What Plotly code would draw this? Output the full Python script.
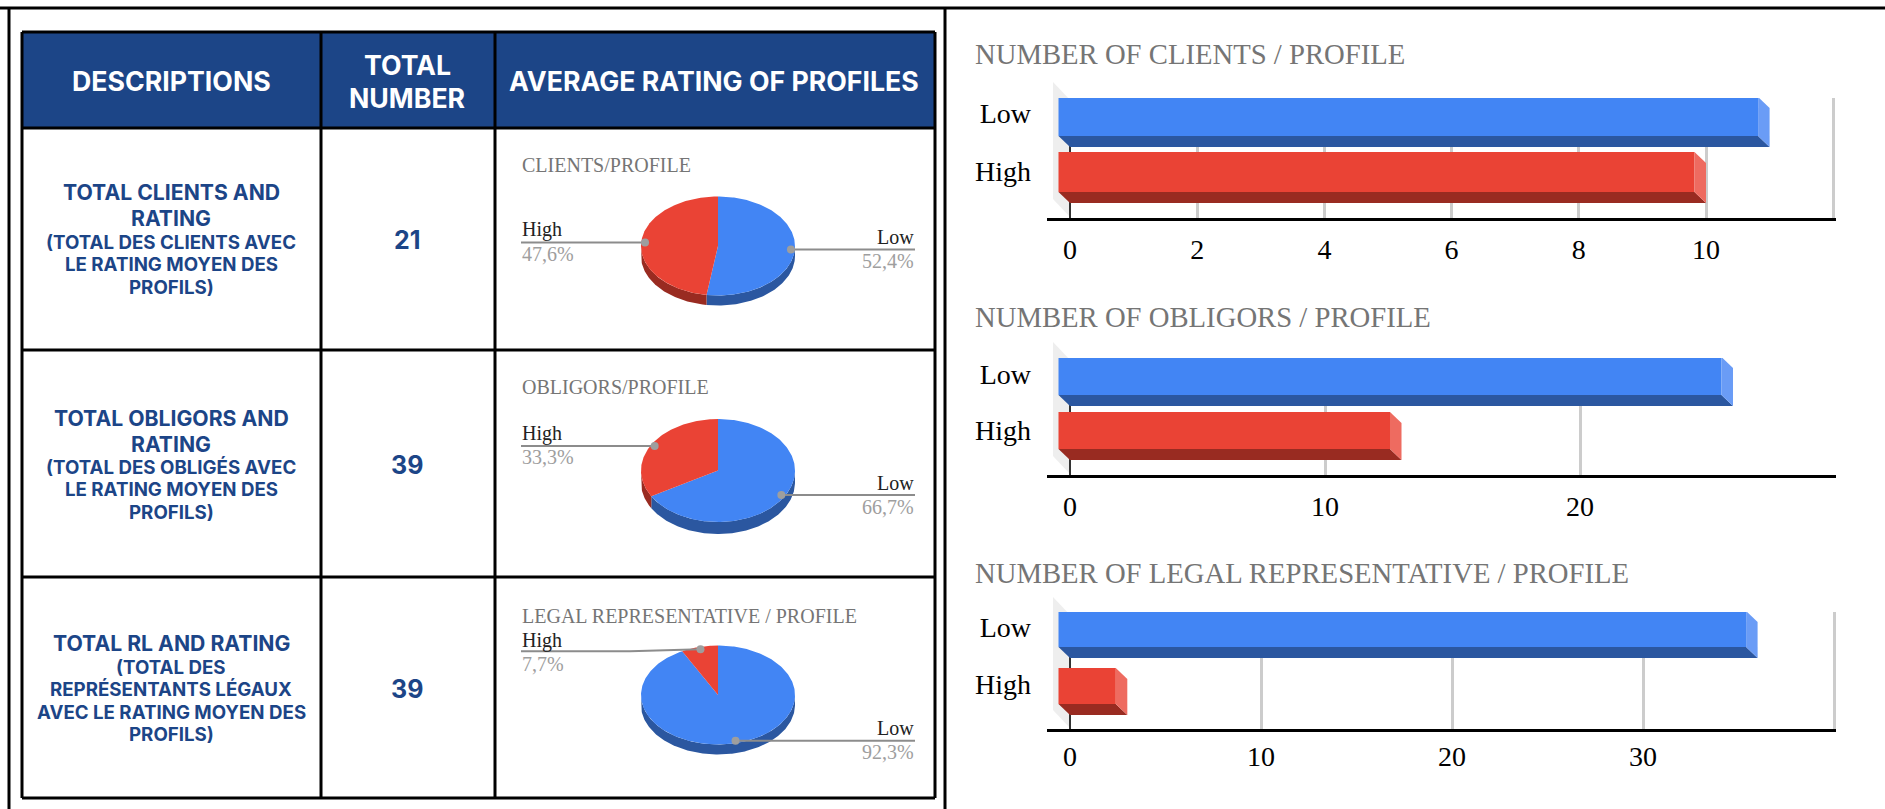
import math
import plotly.graph_objects as go

# ---------- data ----------
categories = ["Low", "High"]
clients_values = [11, 10]
obligors_values = [26, 13]
legal_values = [36, 3]

bar_titles = ["NUMBER OF CLIENTS / PROFILE", "NUMBER OF OBLIGORS / PROFILE", "NUMBER OF LEGAL REPRESENTATIVE / PROFILE"]
bar_ticks = [[0, 2, 4, 6, 8, 10, 12], [0, 10, 20, 30], [0, 10, 20, 30, 40]]
pie_titles = ["CLIENTS/PROFILE", "OBLIGORS/PROFILE", "LEGAL REPRESENTATIVE / PROFILE"]

header_labels = ["DESCRIPTIONS", "TOTAL<br>NUMBER", "AVERAGE RATING OF PROFILES"]
row_main = ["TOTAL CLIENTS AND<br>RATING", "TOTAL OBLIGORS AND<br>RATING", "TOTAL RL AND RATING"]
row_sub = [
    "(TOTAL DES CLIENTS AVEC<br>LE RATING MOYEN DES<br>PROFILS)",
    "(TOTAL DES OBLIGÉS AVEC<br>LE RATING MOYEN DES<br>PROFILS)",
    "(TOTAL DES<br>REPRÉSENTANTS LÉGAUX<br>AVEC LE RATING MOYEN DES<br>PROFILS)",
]
row_totals = [21, 39, 39]

series = [clients_values, obligors_values, legal_values]

# ---------- layout and style ----------
W, H = 1885, 809
NAVY = "#1C4587"
BLUE, BLUE_D, BLUE_L = "#4285F4", "#2B57A0", "#6A9CF6"
RED, RED_D, RED_L = "#EA4335", "#992B21", "#EE6B60"
FRONT = [BLUE, RED]
DARK = [BLUE_D, RED_D]
LIGHT = [BLUE_L, RED_L]
SERIF = "Liberation Serif"
SANS = "Inter"


def fx(p):
    return p / W


def fy(p):
    return 1 - p / H


annotations, shapes, traces = [], [], []


def text(x, y, s, size, color, family=SERIF, anchor="center", weight=None):
    annotations.append(dict(
        x=fx(x), y=fy(y), xref="paper", yref="paper", text=s, showarrow=False,
        xanchor=anchor, yanchor="middle", align=anchor,
        font=dict(family=family, size=size, color=color, weight=weight), borderpad=0,
    ))


def block(x, first_y, spacing, s, size, color, weight=700):
    """One annotation per line, so the line spacing follows the picture rather than the font."""
    for j, part in enumerate(s.split("<br>")):
        text(x, first_y + j * spacing, part, size, color, SANS, weight=weight)


def line(x0, y0, x1, y1, width=3, color="#000"):
    shapes.append(dict(type="line", xref="paper", yref="paper", x0=fx(x0), y0=fy(y0), x1=fx(x1), y1=fy(y1),
                       line=dict(color=color, width=width), layer="above"))


# frame and table
line(0, 8, W, 8, 3)
line(9, 8, 9, H, 3)
line(945, 8, 945, H, 3)
shapes.append(dict(type="rect", xref="paper", yref="paper", x0=fx(22), x1=fx(935), y0=fy(32), y1=fy(128),
                   fillcolor=NAVY, line=dict(width=0), layer="below"))
TABLE_X = [22, 321, 495, 935]
TABLE_Y = [32, 128, 350, 577, 798]
for x in TABLE_X:
    line(x, TABLE_Y[0], x, TABLE_Y[-1])
for y in TABLE_Y:
    line(TABLE_X[0], y, TABLE_X[-1], y)

block(171, 81, 33, header_labels[0], 26.7, "#fff")
block(407, 65, 33, header_labels[1], 26.7, "#fff")
block(714, 81, 33, header_labels[2], 26.7, "#fff")

MAIN_Y = [192, 418, 643]
SUB_Y = [242, 467, 667]
TOTAL_Y = [240, 465, 689]
for i in range(3):
    block(171, MAIN_Y[i], 26, row_main[i], 21.2, NAVY)
    block(171, SUB_Y[i], 22.6, row_sub[i], 18.7, NAVY)
    text(407, TOTAL_Y[i], str(row_totals[i]), 25, NAVY, SANS, weight=700)

layout_axes = {}

# ---------- bar charts ----------
BAR_GEOM = [
    dict(zero=1070, unit=63.6, grid_top=98, axis=218, wall_top=82, tops=[97, 152], bots=[136, 192], title=54,
         lab=[113, 171], standoff=4),
    dict(zero=1070, unit=25.5, grid_top=358, axis=475, wall_top=342, tops=[357, 412], bots=[395, 449], title=317,
         lab=[374, 430], standoff=4),
    dict(zero=1070, unit=19.1, grid_top=612, axis=729, wall_top=597, tops=[611, 668], bots=[647, 704], title=573,
         lab=[627, 684], standoff=0),
]
AX_LEFT, AX_RIGHT = 1047, 1836
DEPTH_X, DEPTH_Y = 11.5, 11

for n, (vals, g, ticks) in enumerate(zip(series, BAR_GEOM, bar_ticks), start=1):
    xname, yname = ("x" if n == 1 else f"x{n}"), ("y" if n == 1 else f"y{n}")
    cen = [(g["tops"][k] + g["bots"][k]) / 2 for k in range(2)]
    step = cen[1] - cen[0]
    ypos = [0, 1]
    to_y = lambda p: (p - cen[0]) / step
    dxv = DEPTH_X / g["unit"]
    dyv = DEPTH_Y / step
    widths = [(g["bots"][k] - g["tops"][k]) / step for k in range(2)]

    # front faces
    traces.append(go.Bar(
        orientation="h", y=ypos, x=vals, base=[-dxv, -dxv], width=widths,
        marker=dict(color=FRONT, line=dict(width=0)), xaxis=xname, yaxis=yname,
        cliponaxis=False, hoverinfo="skip", showlegend=False,
    ))
    # underside and end faces
    for k, v in enumerate(vals):
        t, b = to_y(g["tops"][k]), to_y(g["bots"][k])
        traces.append(go.Scatter(
            x=[-dxv, v - dxv, v, 0, -dxv], y=[b, b, b + dyv, b + dyv, b], mode="lines", fill="toself",
            fillcolor=DARK[k], line=dict(width=0), xaxis=xname, yaxis=yname, cliponaxis=False,
            hoverinfo="skip", showlegend=False,
        ))
        traces.append(go.Scatter(
            x=[v - dxv, v, v, v - dxv, v - dxv], y=[t, t + dyv, b + dyv, b, t], mode="lines", fill="toself",
            fillcolor=LIGHT[k], line=dict(width=0), xaxis=xname, yaxis=yname, cliponaxis=False,
            hoverinfo="skip", showlegend=False,
        ))
    # pale back wall, on the page so that it may rise above the plot area
    wl, wr = g["zero"] - 17, g["zero"]
    wt, wb = g["wall_top"], g["axis"] - 1
    shapes.append(dict(type="path", xref="paper", yref="paper", layer="below",
                       path=f"M {fx(wl)} {fy(wt)} L {fx(wr)} {fy(wt + 18)} L {fx(wr)} {fy(wb)} L {fx(wl)} {fy(wb - 18)} Z",
                       fillcolor="#EEEEEE", line=dict(width=0)))

    suffix = "" if n == 1 else str(n)
    labels = [str(t) for t in ticks]
    labels[-1] = ""
    layout_axes[f"xaxis{suffix}"] = dict(
        domain=[fx(AX_LEFT), fx(AX_RIGHT)], anchor=yname,
        range=[(AX_LEFT - g["zero"]) / g["unit"], (AX_RIGHT - g["zero"]) / g["unit"]],
        tickmode="array", tickvals=ticks, ticktext=labels, ticks="",
        tickfont=dict(family=SERIF, size=28, color="#000"), ticklabelstandoff=g["standoff"],
        showgrid=True, gridcolor="#CCCCCC", gridwidth=2.5,
        zeroline=True, zerolinecolor="#333333", zerolinewidth=2,
        showline=True, linecolor="#000", linewidth=3, fixedrange=True,
    )
    layout_axes[f"yaxis{suffix}"] = dict(
        domain=[fy(g["axis"]), fy(g["grid_top"])], anchor=xname,
        range=[to_y(g["axis"]), to_y(g["grid_top"])],
        tickmode="array", tickvals=[to_y(p) for p in g["lab"]], ticktext=categories, ticks="",
        tickfont=dict(family=SERIF, size=28, color="#000"), ticklabelstandoff=15,
        showgrid=False, zeroline=False, showline=False, fixedrange=True,
    )
    text(974, g["title"], bar_titles[n - 1], 28.7, "#757575", anchor="left")

# ---------- pies (tilted: ellipse in axis units) ----------
PIE_GEOM = [
    dict(cell=(130, 349), cy=246, ry=49.5, wall=10, title=165, hi_lab=230, lo_lab=237),
    dict(cell=(352, 576), cy=470.5, ry=51.5, wall=12, title=387, hi_lab=433, lo_lab=483),
    dict(cell=(579, 797), cy=695, ry=49.5, wall=10, title=616, hi_lab=640, lo_lab=728),
]
PIE_CX, RX = 718, 77
LEAD_L, LEAD_R = 521, 915
CELL_L, CELL_R = 496, 934
LEAD_GREY, DOT_GREY = "#8C8C8C", "#9E9E9E"


def arc(a0, a1):
    pts = max(2, int(abs(a1 - a0)) + 2)
    return [a0 + (a1 - a0) * i / (pts - 1) for i in range(pts)]


for n, (vals, g) in enumerate(zip(series, PIE_GEOM), start=4):
    xname, yname = f"x{n}", f"y{n}"
    total = sum(vals)
    fracs = [v / total for v in vals]
    RY = g["ry"]
    xu = lambda p: (p - PIE_CX) / RX
    yu = lambda p: (g["cy"] - p) / RY
    wall_u = g["wall"] / RY

    starts = [0, fracs[0] * 360]
    ends = [fracs[0] * 360, 360]
    # side wall, only on the near half
    for k in range(2):
        a0, a1 = max(starts[k], 90), min(ends[k], 270)
        if a1 <= a0:
            continue
        aa = arc(a0, a1)
        xs = [math.sin(math.radians(a)) for a in aa]
        ys = [math.cos(math.radians(a)) for a in aa]
        traces.append(go.Scatter(
            x=xs + xs[::-1], y=ys + [y - wall_u for y in ys[::-1]], mode="lines", fill="toself",
            fillcolor=DARK[k], line=dict(width=0), xaxis=xname, yaxis=yname, hoverinfo="skip", showlegend=False,
        ))
    # top slices
    for k in range(2):
        aa = arc(starts[k], ends[k])
        xs = [0] + [math.sin(math.radians(a)) for a in aa] + [0]
        ys = [0] + [math.cos(math.radians(a)) for a in aa] + [0]
        traces.append(go.Scatter(
            x=xs, y=ys, mode="lines", fill="toself", fillcolor=FRONT[k], line=dict(width=0),
            xaxis=xname, yaxis=yname, name=categories[k], hoverinfo="name", showlegend=False,
        ))
    # leader lines with dots at 95 % of the radius at each slice's mid angle
    for k in range(2):
        mid = math.radians((starts[k] + ends[k]) / 2)
        mx, my = 0.95 * math.sin(mid), 0.95 * math.cos(mid)
        end = xu(LEAD_L) if k == 1 else xu(LEAD_R)
        lx, ly = [mx, end], [my, my]
        if n == 6 and k == 1:
            ly = [my, my - 2 / RY, my - 2 / RY]
            lx = [mx, xu(630), end]
        traces.append(go.Scatter(
            x=lx, y=ly, mode="lines", line=dict(color=LEAD_GREY, width=2),
            xaxis=xname, yaxis=yname, hoverinfo="skip", showlegend=False,
        ))
        traces.append(go.Scatter(
            x=[mx], y=[my], mode="markers", marker=dict(color=DOT_GREY, size=8),
            xaxis=xname, yaxis=yname, hoverinfo="skip", showlegend=False,
        ))
    suffix = str(n)
    layout_axes[f"xaxis{suffix}"] = dict(domain=[fx(CELL_L), fx(CELL_R)], range=[xu(CELL_L), xu(CELL_R)],
                                         anchor=yname, visible=False, fixedrange=True)
    layout_axes[f"yaxis{suffix}"] = dict(domain=[fy(g["cell"][1]), fy(g["cell"][0])],
                                         range=[yu(g["cell"][1]), yu(g["cell"][0])],
                                         anchor=xname, visible=False, fixedrange=True)

    pct = [f"{f * 100:.1f}%".replace(".", ",") for f in fracs]
    text(LEAD_L, g["title"], pie_titles[n - 4], 20, "#757575", anchor="left")
    text(LEAD_L, g["hi_lab"], categories[1], 20, "#222222", anchor="left")
    text(LEAD_L, g["hi_lab"] + 24, pct[1], 20, "#9E9E9E", anchor="left")
    text(LEAD_R, g["lo_lab"], categories[0], 20, "#222222", anchor="right")
    text(LEAD_R, g["lo_lab"] + 24, pct[0], 20, "#9E9E9E", anchor="right")

fig = go.Figure(data=traces)
fig.update_layout(
    width=W, height=H, autosize=False, margin=dict(l=0, r=0, t=0, b=0),
    paper_bgcolor="#fff", plot_bgcolor="rgba(0,0,0,0)", showlegend=False,
    annotations=annotations, shapes=shapes, barmode="overlay",
    **layout_axes,
)
fig.write_html("out.html", config={"displayModeBar": False},
               post_script="document.body.style.margin='0';document.body.style.overflow='hidden';")
